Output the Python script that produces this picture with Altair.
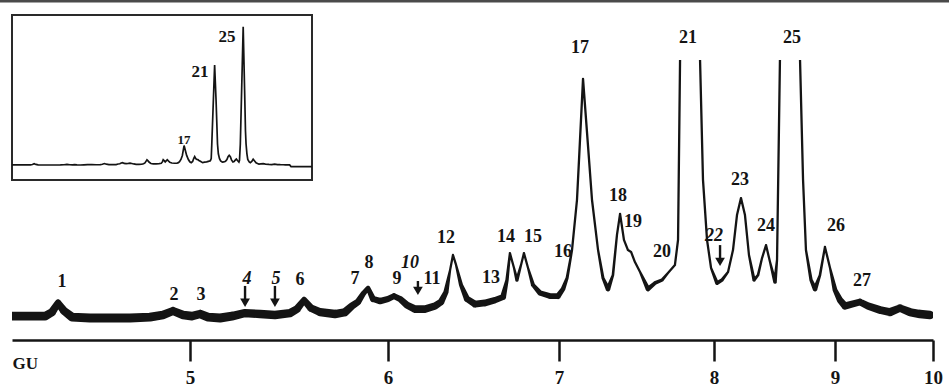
import altair as alt
import pandas as pd

INK = "#141414"
SERIF = "Liberation Serif"

# ---- Chromatogram trace: retention (glucose units) and detector response (a.u.)
gu = [
    4.100, 4.191, 4.267, 4.302, 4.333, 4.363, 4.403, 4.494, 4.595, 4.697,
    4.798, 4.863, 4.914, 4.965, 5.010, 5.051, 5.091, 5.152, 5.212, 5.278,
    5.354, 5.429, 5.505, 5.540, 5.576, 5.611, 5.657, 5.732, 5.783, 5.818,
    5.848, 5.874, 5.899, 5.924, 5.960, 6.000, 6.035, 6.070, 6.111, 6.158,
    6.216, 6.275, 6.310, 6.339, 6.363, 6.380, 6.398, 6.427, 6.462, 6.509,
    6.567, 6.626, 6.673, 6.696, 6.713, 6.737, 6.754, 6.778, 6.795, 6.819,
    6.848, 6.889, 6.947, 6.994, 7.026, 7.052, 7.084, 7.116, 7.129, 7.155,
    7.194, 7.213, 7.252, 7.284, 7.316, 7.348, 7.374, 7.394, 7.419, 7.445,
    7.465, 7.490, 7.523, 7.574, 7.619, 7.665, 7.703, 7.748, 7.768, 7.781,
    7.845, 7.877, 7.910, 7.929, 7.955, 7.981, 8.025, 8.066, 8.116, 8.157,
    8.190, 8.223, 8.256, 8.289, 8.331, 8.364, 8.397, 8.430, 8.463, 8.504,
    8.521, 8.545, 8.628, 8.669, 8.694, 8.711, 8.736, 8.760, 8.802, 8.835,
    8.876, 8.917, 8.959, 9.000, 9.051, 9.102, 9.173, 9.255, 9.337, 9.459,
    9.561, 9.663, 9.765, 9.867, 9.969,
]
response = [
    0.8, 0.8, 0.8, 2.5, 6.4, 3.0, 0.4, 0.0, 0.0, 0.0,
    0.4, 1.3, 3.0, 1.3, 0.8, 1.7, 0.4, 0.0, 0.8, 2.1,
    1.7, 1.3, 2.1, 3.8, 7.6, 4.2, 2.5, 1.7, 2.5, 5.1,
    6.8, 10.2, 12.7, 8.1, 7.2, 8.1, 9.3, 8.1, 5.5, 3.8,
    3.8, 5.1, 6.8, 11.0, 20.3, 26.7, 22.5, 14.0, 8.1, 5.9,
    6.4, 7.6, 8.9, 16.1, 27.5, 21.2, 16.1, 22.5, 27.5, 21.2,
    14.0, 10.6, 9.3, 9.3, 12.3, 16.9, 28.8, 50.0, 66.9, 101.3,
    66.9, 50.0, 28.8, 16.9, 12.3, 18.2, 35.2, 44.1, 33.1, 28.8,
    28.0, 23.7, 19.5, 12.3, 14.8, 16.1, 19.1, 22.5, 33.1, 109.3,
    520.0, 340.0, 109.3, 58.5, 33.1, 21.2, 14.8, 16.1, 19.5, 28.8,
    43.6, 50.8, 43.6, 26.7, 16.1, 18.2, 25.4, 30.9, 23.7, 15.3,
    24.6, 109.3, 720.0, 389.0, 177.0, 109.3, 58.5, 28.8, 16.1, 12.3,
    18.2, 30.1, 21.2, 11.9, 7.6, 5.1, 5.9, 6.8, 5.1, 3.4,
    2.5, 4.2, 2.5, 1.7, 1.3,
]

# Full run shown in the inset continues a little before and after the main window
lead_gu, lead_resp = [3.9], [0.8]
tail_gu = [10.05, 10.20, 10.25, 11.0]
tail_resp = [0.8, 0.5, -8.0, -8.0]

# ---- Peak numbering
peak_ids = [str(i) for i in range(1, 28)]
peak_gu = [4.353, 4.919, 5.056, 5.288, 5.434, 5.556, 5.833, 5.904, 6.053, 6.129,
           6.257, 6.339, 6.602, 6.690, 6.848, 7.026, 7.135, 7.381, 7.477, 7.665,
           7.832, 8.000, 8.215, 8.430, 8.645, 9.010, 9.276]
peak_resp = [15.3, 9.7, 9.7, 16.5, 16.5, 16.1, 16.5, 23.3, 16.5, 23.3,
             16.5, 33.9, 16.9, 34.3, 34.3, 28.0, 114.5, 51.7, 40.7, 28.0,
             118.6, 34.7, 58.5, 39.0, 118.6, 39.0, 15.7]
italic_ids = ["4", "5", "10", "22"]

# Arrows pointing at the positions of the minor species 4, 5, 10 and 22
arrow_gu = [5.278, 5.429, 6.175, 8.050]
arrow_top = [13.6, 13.6, 15.7, 30.9]
arrow_tip = [4.7, 4.7, 9.7, 22.0]

# Axis ticks (GU)
gu_ticks = [5, 6, 7, 8, 9, 10]

# Inset labels
inset_ids = ["17", "21", "25"]
inset_label_gu = [7.155, 7.516, 8.157]
inset_label_resp = [130, 484, 667]

# ---- Layout of the (non-linear) GU axis, in pixels across the plot
gu_px = [0, 178, 376, 547, 702, 823, 921]
main_domain = [4.1] + gu_ticks
main_resp_domain = [-9.3, 109.3]
inset_domain = [3.9] + main_domain + [11.0]
inset_px = [0] + [9 + p * 0.2856 for p in gu_px] + [300]
inset_span_gu = [3.9, 11.0]
inset_span_resp = [-78, 781]

trace_df = pd.DataFrame({"gu": gu, "resp": response})
inset_df = pd.DataFrame({"gu": lead_gu + gu + tail_gu,
                         "resp": lead_resp + response + tail_resp})
peaks_df = pd.DataFrame({"label": peak_ids, "gu": peak_gu, "resp": peak_resp})
peaks_df["italic"] = peaks_df["label"].isin(italic_ids)
arrows_df = pd.DataFrame({"gu": arrow_gu, "resp": arrow_top, "tip": arrow_tip})
inset_lab_df = pd.DataFrame({"label": inset_ids, "gu": inset_label_gu,
                             "resp": inset_label_resp})
frame_df = pd.DataFrame({"gu": [inset_span_gu[0]], "gu2": [inset_span_gu[1]],
                         "resp": [inset_span_resp[0]], "resp2": [inset_span_resp[1]]})

x_main = alt.X(
    "gu:Q",
    scale=alt.Scale(domain=main_domain, range=gu_px, nice=False, zero=False),
    axis=alt.Axis(
        values=gu_ticks, format="d", title="GU", titleX=0, titleY=23,
        titleAlign="left", titleBaseline="middle", titleFont=SERIF,
        titleFontSize=17, titleFontWeight="bold", titleColor=INK,
        labelFont=SERIF, labelFontSize=19, labelFontWeight="bold",
        labelColor=INK, labelPadding=7, labelFlush=False, labelOverlap=False,
        tickSize=21, tickWidth=2.5, tickColor=INK,
        domainWidth=2.5, domainColor=INK, grid=False,
    ),
)
main_resp_scale = alt.Scale(domain=main_resp_domain, nice=False, zero=False)
y_main = alt.Y("resp:Q", scale=main_resp_scale, axis=None)

trace = (
    alt.Chart(trace_df)
    .transform_calculate(w="max(2.3, 9 - 0.35 * datum.resp)")
    .mark_trail(color=INK, clip=True)
    .encode(x=x_main, y=y_main, size=alt.Size("w:Q", scale=None, legend=None))
)

label_base = alt.Chart(peaks_df).encode(x=x_main, y=y_main, text="label:N")
labels_upright = label_base.transform_filter("!datum.italic").mark_text(
    font=SERIF, fontSize=18, fontWeight="bold", color=INK, baseline="middle")
labels_italic = label_base.transform_filter("datum.italic").mark_text(
    font=SERIF, fontSize=18, fontWeight="bold", fontStyle="italic", color=INK,
    baseline="middle")

arrow_base = alt.Chart(arrows_df).transform_calculate(
    neck="datum.tip + 1.8", head="datum.tip + 1.8")
arrow_shafts = arrow_base.mark_rule(color=INK, strokeWidth=2.4).encode(
    x=x_main, y=y_main, y2="neck:Q")
arrow_heads = arrow_base.mark_point(
    shape="triangle-down", filled=True, size=95, color=INK, opacity=1
).encode(x=x_main, y=alt.Y("head:Q", scale=main_resp_scale, axis=None))

top_edge = alt.Chart(pd.DataFrame({"k": [0]})).mark_rule(
    color="#4a4a4a", strokeWidth=3
).encode(x=alt.value(-12), x2=alt.value(937), y=alt.value(-59))

main = alt.layer(trace, arrow_shafts, arrow_heads, labels_upright, labels_italic, top_edge)

# ---- Inset: full chromatogram on a compressed scale
x_inset = alt.X("gu:Q", scale=alt.Scale(domain=inset_domain, range=inset_px,
                                        nice=False, zero=False), axis=None)
y_inset = alt.Y("resp:Q", scale=alt.Scale(domain=inset_span_resp, range=[120, -45],
                                          nice=False, zero=False), axis=None)

inset_frame = alt.Chart(frame_df).mark_rect(
    fillOpacity=0, stroke="#2a2a2a", strokeWidth=2
).encode(x=x_inset, x2="gu2:Q", y=y_inset, y2="resp2:Q")
inset_trace = alt.Chart(inset_df).mark_line(color=INK, strokeWidth=1.7).encode(
    x=x_inset, y=y_inset)
inset_big = alt.Chart(inset_lab_df).transform_filter("datum.label != '17'").mark_text(
    font=SERIF, fontSize=17, fontWeight="bold", color=INK, baseline="middle"
).encode(x=x_inset, y=y_inset, text="label:N")
inset_small = alt.Chart(inset_lab_df).transform_filter("datum.label == '17'").mark_text(
    font=SERIF, fontSize=13, fontWeight="bold", color=INK, baseline="middle"
).encode(x=x_inset, y=y_inset, text="label:N")

inset = alt.layer(inset_frame, inset_trace, inset_big, inset_small)

chart = (
    alt.layer(main, inset)
    .resolve_scale(x="independent", y="independent")
    .properties(
        width=921, height=280,
        padding={"left": 12, "top": 60, "right": 16, "bottom": 47},
        autosize=alt.AutoSizeParams(type="none"),
        background="white",
    )
    .configure_view(stroke=None)
)

chart.save("out.html", embed_options={"renderer": "svg", "actions": False})
